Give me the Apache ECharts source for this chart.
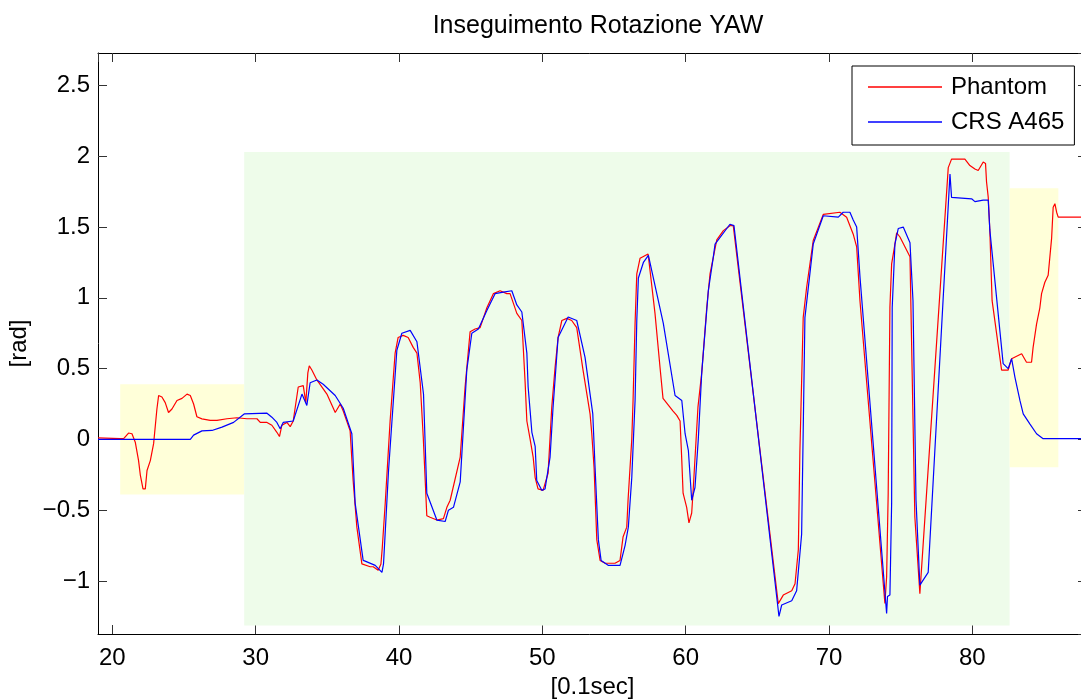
<!DOCTYPE html>
<html>
<head>
<meta charset="utf-8">
<script src="https://cdn.jsdelivr.net/npm/echarts@6/dist/echarts.min.js"></script>
<style>html,body{margin:0;padding:0;background:#fff}#c{width:1081px;height:700px}</style>
</head>
<body>
<div id="c"></div>
<script>
// ---- data ----
const titleText = 'Inseguimento Rotazione YAW';
const xName = '[0.1sec]';
const yName = '[rad]';
const seriesNames = ['Phantom', 'CRS A465'];
const xRange = [19, 88];
const yRange = [-1.375, 2.73];

const phantomT = [19.0,20.56,20.79,21.13,21.37,21.6,21.83,21.95,22.14,22.3,22.42,22.65,22.88,23.11,23.23,23.46,23.69,23.92,24.16,24.51,24.86,25.21,25.44,25.67,25.9,26.25,26.83,27.3,28.0,28.69,29.39,30.09,30.32,30.79,31.13,31.48,31.66,31.83,32.18,32.41,32.62,32.97,33.32,33.5,33.64,33.74,33.92,34.27,34.97,35.55,35.9,36.11,36.59,36.8,37.06,37.41,37.99,38.2,38.55,38.74,38.83,39.04,39.38,39.73,39.94,40.29,40.64,40.99,41.25,41.48,41.69,41.94,42.17,42.64,43.1,43.34,43.57,44.27,44.61,44.96,45.31,45.66,46.13,46.59,47.05,47.52,47.75,48.22,48.57,48.8,48.92,49.15,49.36,49.5,49.7,50.05,50.4,50.66,50.89,51.1,51.36,51.71,52.05,52.4,52.84,53.33,53.45,53.61,53.8,54.03,54.38,55.07,55.42,55.63,55.89,55.98,56.24,56.33,56.47,56.59,56.82,57.38,57.86,58.21,58.42,59.12,59.38,59.61,59.73,59.82,60.07,60.23,60.42,60.51,60.86,61.12,61.47,61.7,62.17,62.63,63.09,63.32,66.46,66.81,67.4,67.63,67.86,67.97,68.2,68.44,68.9,69.6,70.76,71.23,71.69,71.93,72.16,73.9,74.02,74.13,74.25,74.37,74.6,74.72,74.95,75.65,75.99,76.34,78.32,78.55,79.48,79.83,80.18,80.41,80.76,80.92,80.99,81.11,81.22,81.34,81.38,82.04,82.5,82.74,83.44,83.78,84.13,84.24,84.48,84.71,84.83,85.06,85.29,85.53,85.64,85.76,85.88,85.99,88.0];
const phantomY = [0.01,0.005,0.005,0.045,0.04,-0.02,-0.15,-0.25,-0.35,-0.35,-0.22,-0.15,-0.03,0.215,0.31,0.30,0.26,0.19,0.215,0.275,0.29,0.32,0.31,0.25,0.16,0.145,0.134,0.134,0.146,0.153,0.146,0.146,0.12,0.12,0.10,0.05,0.02,0.10,0.12,0.09,0.13,0.37,0.38,0.26,0.47,0.52,0.49,0.42,0.32,0.19,0.25,0.20,0.06,-0.29,-0.62,-0.88,-0.90,-0.90,-0.925,-0.88,-0.77,-0.45,0.13,0.61,0.72,0.735,0.72,0.65,0.61,0.40,0.02,-0.54,-0.55,-0.57,-0.56,-0.48,-0.43,-0.125,0.37,0.76,0.78,0.79,0.93,1.03,1.05,1.03,1.03,0.89,0.84,0.40,0.13,0.0,-0.125,-0.27,-0.35,-0.36,-0.24,0.23,0.51,0.72,0.84,0.855,0.84,0.79,0.49,0.18,0.04,-0.2,-0.71,-0.855,-0.875,-0.875,-0.855,-0.69,-0.62,-0.43,0.0,0.275,0.82,1.17,1.28,1.31,0.89,0.51,0.29,0.20,0.17,0.13,-0.15,-0.38,-0.48,-0.59,-0.52,-0.38,0.23,0.47,0.93,1.17,1.41,1.475,1.51,1.51,-1.16,-1.10,-1.07,-1.02,-0.78,-0.08,0.86,1.075,1.405,1.59,1.605,1.57,1.45,1.36,0.98,-1.16,-0.97,-0.38,0.935,1.24,1.38,1.46,1.43,1.29,-0.55,-1.09,1.92,1.98,1.98,1.935,1.91,1.90,1.96,1.95,1.82,1.71,1.48,1.10,0.98,0.49,0.49,0.57,0.605,0.545,0.545,0.65,0.815,0.93,1.03,1.11,1.16,1.42,1.64,1.665,1.605,1.57,1.57];

const crsT = [19.0,25.44,25.67,26.25,26.95,27.65,28.46,29.2,30.79,31.13,31.48,31.71,31.92,32.62,33.23,33.57,33.8,34.27,34.71,35.55,36.11,36.71,36.94,37.5,37.64,38.34,38.81,38.92,39.27,39.85,40.2,40.78,41.25,41.71,41.94,42.64,43.22,43.45,43.8,44.27,44.73,45.08,45.54,46.13,46.71,47.28,47.87,48.22,48.57,48.92,49.01,49.15,49.27,49.5,49.61,49.96,50.19,50.54,50.75,51.1,51.8,52.4,52.98,53.33,53.52,53.68,53.84,53.91,54.1,54.59,55.42,55.77,56.0,56.24,56.47,56.59,56.7,57.05,57.4,58.44,59.26,59.73,59.96,60.19,60.42,60.65,60.88,61.12,61.58,61.93,62.05,63.09,63.37,66.35,66.51,66.7,67.4,67.74,68.09,68.32,68.9,69.6,70.65,70.99,71.46,71.69,71.93,72.16,74.02,74.08,74.25,74.37,74.41,74.6,74.83,75.18,75.65,75.86,76.07,76.34,76.92,78.44,78.55,79.95,80.18,80.76,81.11,81.22,82.15,82.5,82.74,82.97,83.32,83.55,84.01,84.48,84.94,88.0];
const crsY = [0.0,0.0,0.03,0.06,0.063,0.087,0.12,0.18,0.185,0.157,0.12,0.075,0.12,0.13,0.32,0.24,0.40,0.42,0.39,0.31,0.22,0.04,-0.45,-0.855,-0.86,-0.89,-0.94,-0.88,-0.22,0.63,0.75,0.77,0.69,0.32,-0.38,-0.57,-0.58,-0.50,-0.48,-0.30,0.49,0.75,0.78,0.91,1.03,1.04,1.05,0.95,0.90,0.61,0.37,0.20,0.05,-0.05,-0.29,-0.36,-0.35,-0.125,0.23,0.72,0.865,0.84,0.58,0.32,0.18,-0.2,-0.56,-0.71,-0.855,-0.89,-0.89,-0.75,-0.62,-0.27,0.275,0.84,1.14,1.25,1.30,0.82,0.31,0.275,0.04,-0.08,-0.43,-0.34,0.0,0.47,1.05,1.29,1.38,1.52,1.51,-1.11,-1.25,-1.17,-1.14,-1.07,-0.67,0.86,1.38,1.58,1.57,1.605,1.605,1.55,1.50,1.15,-1.23,-1.11,-1.10,-0.45,0.93,1.38,1.49,1.50,1.39,0.98,-0.43,-1.03,-0.94,1.875,1.71,1.70,1.68,1.69,1.69,1.48,0.535,0.50,0.57,0.44,0.275,0.18,0.11,0.04,0.005,0.005];

// shaded phases
const regionX0 = [20.55, 29.2, 82.6];
const regionX1 = [29.2, 82.6, 86.0];
const regionY0 = [-0.39, -1.315, -0.196];
const regionY1 = [0.39, 2.03, 1.775];
const regionColor = ['#FFFFD9', '#EEFCEA', '#FFFFD9'];

// ---- chart ----
const FONT = 'Liberation Sans, Arial, Helvetica, sans-serif';
const chart = echarts.init(document.getElementById('c'), null, {renderer: 'canvas'});
const pairs = (t, y) => t.map((v, i) => [v, y[i]]);
const minusFmt = v => String(v).replace('-', '\u2212');
const areas = regionX0.map((x0, i) => [
  {xAxis: x0, yAxis: regionY0[i], itemStyle: {color: regionColor[i], opacity: 1}},
  {xAxis: regionX1[i], yAxis: regionY1[i]}
]);

const axisCommon = {
  type: 'value',
  axisLine: {show: true, onZero: false, lineStyle: {color: '#000', width: 1}},
  axisTick: {show: true, inside: true, length: 9, lineStyle: {color: '#333', width: 1}},
  splitLine: {show: false},
  axisLabel: {color: '#000', fontSize: 24, fontFamily: FONT, showMinLabel: false, showMaxLabel: false, formatter: minusFmt}
};

chart.setOption({
  animation: false,
  backgroundColor: '#fff',
  title: {
    text: titleText, left: 593, top: 9, textAlign: 'center',
    textStyle: {fontSize: 25, fontWeight: 'normal', color: '#000', fontFamily: FONT}
  },
  grid: {left: 98, width: 989, top: 53, bottom: 66, containLabel: false, outerBoundsMode: 'none'},
  legend: {
    data: seriesNames.map(n => ({name: n, icon: 'rect'})), orient: 'vertical', left: 852, top: 66,
    itemWidth: 74, itemHeight: 1.4, itemGap: 11,
    padding: [9, 10, 11, 16],
    borderColor: '#000', borderWidth: 1, backgroundColor: '#fff', borderRadius: 0,
    textStyle: {fontSize: 24, color: '#000', fontFamily: FONT, lineHeight: 24, padding: [0, 0, 0, 4]}
  },
  xAxis: [
    Object.assign({}, axisCommon, {
      min: xRange[0], max: xRange[1], splitNumber: 7, position: 'bottom',
      name: xName, nameLocation: 'middle', nameGap: 40,
      nameTextStyle: {fontSize: 24, color: '#000', fontFamily: FONT},
      axisLabel: Object.assign({}, axisCommon.axisLabel, {margin: 12})
    }),
    Object.assign({}, axisCommon, {
      min: xRange[0], max: xRange[1], splitNumber: 7, position: 'top',
      axisLabel: {show: false}
    })
  ],
  yAxis: [
    Object.assign({}, axisCommon, {
      min: yRange[0], max: yRange[1], splitNumber: 8, position: 'left',
      name: yName, nameLocation: 'middle', nameGap: 64, nameRotate: 90,
      nameTextStyle: {fontSize: 24, color: '#000', fontFamily: FONT},
      axisLabel: Object.assign({}, axisCommon.axisLabel, {margin: 8})
    }),
    Object.assign({}, axisCommon, {
      min: yRange[0], max: yRange[1], splitNumber: 8, position: 'right',
      axisLabel: {show: false}
    })
  ],
  series: [
    {
      type: 'line', data: [], z: 1, silent: true,
      markArea: {silent: true, data: areas}
    },
    {
      name: seriesNames[0], type: 'line', data: pairs(phantomT, phantomY),
      symbol: 'none', showSymbol: false, z: 3,
      lineStyle: {color: '#ff0000', width: 1.2}, itemStyle: {color: '#ff0000'}
    },
    {
      name: seriesNames[1], type: 'line', data: pairs(crsT, crsY),
      symbol: 'none', showSymbol: false, z: 4,
      lineStyle: {color: '#0000ff', width: 1.2}, itemStyle: {color: '#0000ff'}
    }
  ]
});
</script>
</body>
</html>
